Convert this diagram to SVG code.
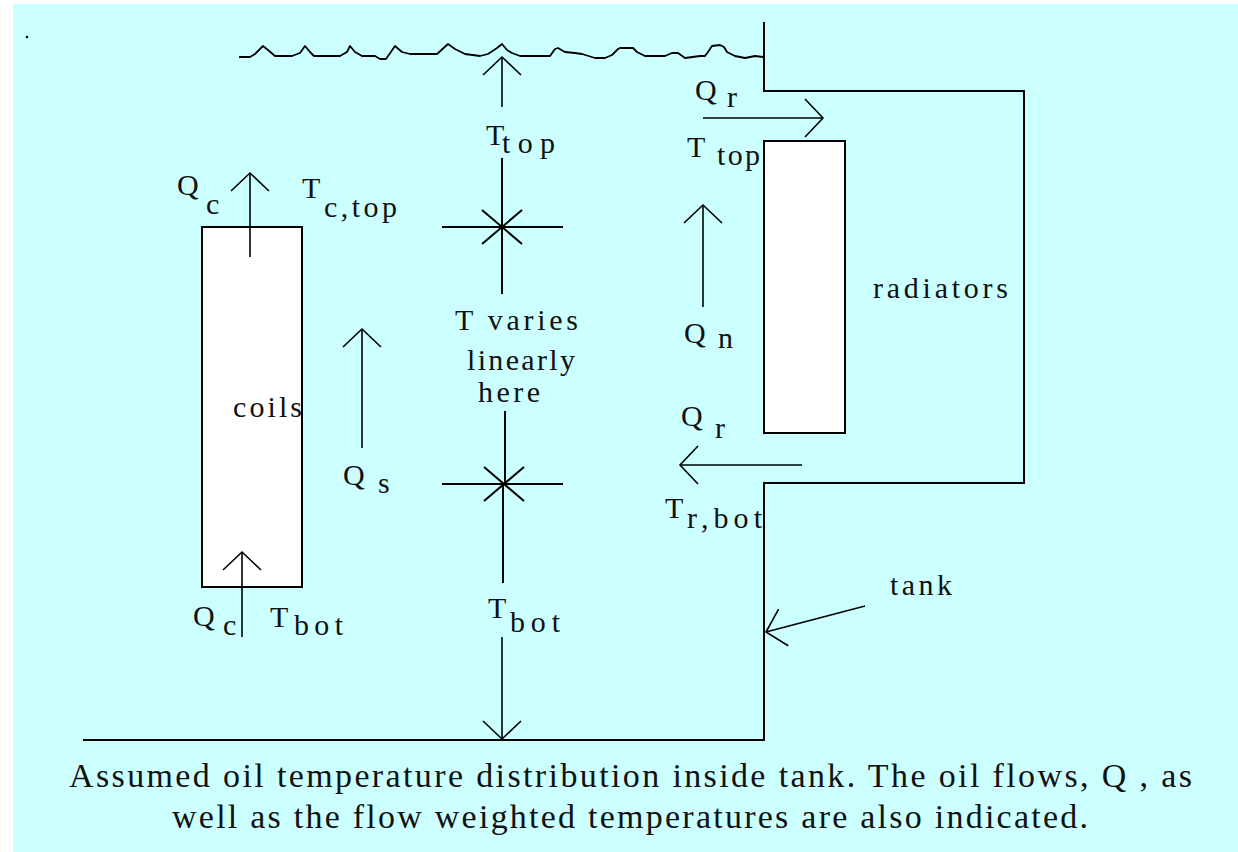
<svg xmlns="http://www.w3.org/2000/svg" width="1238" height="852" viewBox="0 0 1238 852">
<style>
.ln{stroke:#000;stroke-width:2;fill:none}
.wv{stroke:#000;stroke-width:1.8;fill:none;stroke-linejoin:round}
.ar{stroke:#000;stroke-width:1.6;fill:none;marker-end:url(#v)}
.box{fill:#fff;stroke:#000;stroke-width:2}
text{font-family:"Liberation Serif","Times New Roman",serif;font-size:30px;fill:#111}
.cap{font-size:34px}
</style>
<defs>
<marker id="v" markerUnits="userSpaceOnUse" markerWidth="44" markerHeight="44" viewBox="-22 -22 44 44" refX="0" refY="0" orient="auto" overflow="visible">
<path d="M-18,-19 L0,0 L-18,19" fill="none" stroke="#000" stroke-width="1.6"/>
</marker>
</defs>
<rect x="13" y="4" width="1225" height="848" fill="#ccffff"/>
<circle cx="27" cy="37" r="1.3" fill="#000"/>
<g id="oil-surface">
<polyline class="wv" points="239,57 250,57 255,54 263,46 268,50 275,56 292,56 300,53 305,46 310,52 314,56 340,56 347,52 350,46 355,52 362,56 375,56 380,59 386,59 395,46 402,52 410,54 437,54 448,44 455,49 465,54 480,56 488,54 497,48 502,44 507,50 512,53 520,56 550,56 555,49 558,48 565,52 575,53 582,54 595,58 605,58 612,55 618,49 620,48 633,48 637,52 645,56 665,56 672,53 678,53 685,58 700,56 705,56 708,52 712,46 720,45 724,47 727,52 735,56 745,58 755,56 763,57"/>
</g>
<g id="tank">
<polyline class="ln" points="764,22 764,91 1024,91 1024,483 764,483 764,740 83,740"/>
<text x="890" y="595" textLength="62">tank</text>
</g>
<g id="coils">
<rect class="box" x="202" y="227" width="100" height="360"/>
<text x="233" y="417" textLength="69">coils</text>
</g>
<g id="radiators">
<rect class="box" x="764" y="141" width="81" height="292"/>
<text x="873" y="298" textLength="135">radiators</text>
</g>
<g id="temperature-profile">
<line class="ln" x1="502" y1="158" x2="502" y2="294"/>
<line class="ln" x1="442" y1="227" x2="563" y2="227"/>
<line class="ln" x1="482" y1="210" x2="522" y2="244"/>
<line class="ln" x1="482" y1="244" x2="522" y2="210"/>
<line class="ln" x1="505" y1="411" x2="505" y2="484"/>
<line class="ln" x1="503" y1="484" x2="503" y2="583"/>
<line class="ln" x1="442" y1="484" x2="563" y2="484"/>
<line class="ln" x1="484" y1="467" x2="524" y2="501"/>
<line class="ln" x1="484" y1="501" x2="524" y2="467"/>
<text x="455" y="330" textLength="123">T varies</text>
<text x="467" y="370" textLength="108">linearly</text>
<text x="478" y="402" textLength="62">here</text>
</g>
<g id="connectors">
<line class="ar" x1="250" y1="257" x2="250" y2="173"/>
<line class="ar" x1="242" y1="637" x2="242" y2="552"/>
<line class="ar" x1="362" y1="448" x2="362" y2="329"/>
<line class="ar" x1="502" y1="107" x2="502" y2="57"/>
<line class="ar" x1="502" y1="637" x2="502" y2="739"/>
<line class="ar" x1="703" y1="118" x2="823" y2="118"/>
<line class="ar" x1="703" y1="307" x2="703" y2="205"/>
<line class="ar" x1="802" y1="465" x2="680" y2="465"/>
<line class="ar" x1="865" y1="606" x2="766" y2="632"/>
</g>
<g id="labels">
<text x="177" y="195">Q</text><text x="206" y="214">c</text>
<text x="302" y="198">T</text><text x="324" y="217" textLength="73">c,top</text>
<text x="486" y="145">T</text><text x="502" y="153" textLength="53">top</text>
<text x="695" y="100">Q</text><text x="727" y="107">r</text>
<text x="687" y="157">T</text><text x="717" y="165" textLength="43">top</text>
<text x="684" y="343">Q</text><text x="718" y="348">n</text>
<text x="681" y="426">Q</text><text x="715" y="438">r</text>
<text x="343" y="485">Q</text><text x="378" y="493">s</text>
<text x="665" y="518">T</text><text x="687" y="528" textLength="75">r,bot</text>
<text x="193" y="626">Q</text><text x="223" y="635">c</text>
<text x="270" y="627">T</text><text x="294" y="635" textLength="49">bot</text>
<text x="488" y="618">T</text><text x="510" y="632" textLength="50">bot</text>
</g>
<g id="caption">
<text class="cap" x="69" y="787" textLength="1123">Assumed oil temperature distribution inside tank.  The oil flows, Q , as</text>
<text class="cap" x="172" y="828" textLength="916">well as the flow weighted temperatures are also indicated.</text>
</g>
</svg>
